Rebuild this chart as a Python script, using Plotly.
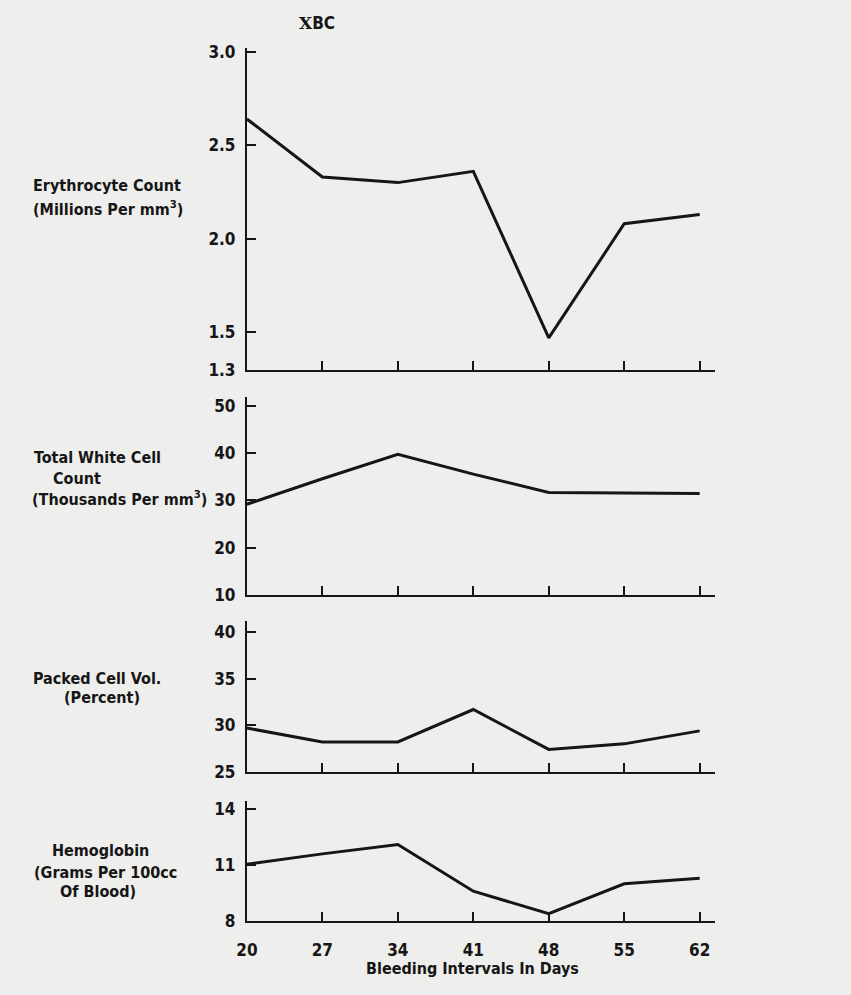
import plotly.graph_objects as go

# ---- data ----
days = [20, 27, 34, 41, 48, 55, 62]
x_tick_labels = ["20", "27", "34", "41", "48", "55", "62"]

erythrocyte = [2.64, 2.33, 2.30, 2.36, 1.47, 2.08, 2.13]
white_cells = [29.2, 34.6, 39.8, 35.6, 31.7, 31.6, 31.5]
packed_cell = [29.7, 28.2, 28.2, 31.7, 27.4, 28.0, 29.4]
hemoglobin = [11.05, 11.6, 12.1, 9.6, 8.4, 10.0, 10.3]

ery_ticks = [1.3, 1.5, 2.0, 2.5, 3.0]
ery_ticktext = ["1.3", "1.5", "2.0", "2.5", "3.0"]
wbc_ticks = [10, 20, 30, 40, 50]
pcv_ticks = [25, 30, 35, 40]
hb_ticks = [8, 11, 14]

W, H = 851, 995
INK = "#161616"
BG = "#eeeeec"
FONT = "DejaVu Sans Condensed, DejaVu Sans, Liberation Sans, sans-serif"

def px(pix):
    return pix / W

def py(pix):
    return 1 - pix / H

# panel pixel extents (top, bottom)
panels = [
    (42, 369, erythrocyte, [1.3, 3.018], ery_ticks, ery_ticktext),
    (397, 598, white_cells, [10, 51.9], wbc_ticks, [str(v) for v in wbc_ticks]),
    (625, 778, packed_cell, [25, 41.2], pcv_ticks, [str(v) for v in pcv_ticks]),
    (808, 930, hemoglobin, [8, 14.42], hb_ticks, [str(v) for v in hb_ticks]),
]

fig = go.Figure()
layout = dict(
    width=W, height=H,
    margin=dict(l=0, r=0, t=0, b=0),
    paper_bgcolor=BG, plot_bgcolor=BG,
    showlegend=False,
    font=dict(family=FONT, color=INK, size=16),
)

xdom = [px(239), px(713)]
for i, (top, bot, vals, yr, tv, tt) in enumerate(panels, start=1):
    xa = "x" if i == 1 else f"x{i}"
    ya = "y" if i == 1 else f"y{i}"
    fig.add_trace(go.Scatter(x=days, y=vals, mode="lines",
                             line=dict(color=INK, width=3),
                             xaxis=xa, yaxis=ya, hoverinfo="skip"))
    last = (i == len(panels))
    layout["xaxis" if i == 1 else f"xaxis{i}"] = dict(
        domain=xdom, anchor=ya, range=[20, 63.4],
        showline=True, linecolor=INK, linewidth=2,
        ticks="inside", ticklen=9, tickwidth=2, tickcolor=INK,
        tickvals=days, ticktext=x_tick_labels, showticklabels=last,
        ticklabelstandoff=12,
        tickfont=dict(family=FONT, size=17, color=INK, weight="bold"),
        showgrid=False, zeroline=False, fixedrange=True,
        **({} if i == 1 else {"matches": "x"}),
    )
    layout["yaxis" if i == 1 else f"yaxis{i}"] = dict(
        domain=[py(bot), py(top)], anchor=xa, range=yr,
        showline=True, linecolor=INK, linewidth=2,
        ticks="inside", ticklen=9, tickwidth=2, tickcolor=INK,
        tickvals=tv, ticktext=tt, ticklabelstandoff=6,
        tickfont=dict(family=FONT, size=17, color=INK, weight="bold"),
        showgrid=False, zeroline=False, fixedrange=True,
    )

fig.update_layout(**layout)

# left-side labels (each line placed individually)
labels = [
    ("Erythrocyte Count", 21, 182),
    ("(Millions Per mm<sup>3</sup>)", 21, 205),
    ("Total White Cell", 22, 458),
    ("Count", 42, 480),
    ("(Thousands Per mm<sup>3</sup>)", 20, 500),
    ("Packed Cell Vol.", 21, 683),
    ("(Percent)", 53, 703),
    ("Hemoglobin", 41, 858),
    ("(Grams Per 100cc", 22, 881),
    ("Of Blood)", 49, 900),
]
for txt, x, y in labels:
    fig.add_annotation(text=f"<b>{txt}</b>", xref="paper", yref="paper",
                       x=px(x), y=py(y), xanchor="left", yanchor="middle",
                       showarrow=False, borderpad=0,
                       font=dict(family=FONT, size=16, color=INK))

# title at top
fig.add_annotation(text="<span style='font-family:DejaVu Serif'><b>X</b></span><b>BC</b>",
                   xref="paper", yref="paper", x=px(291), y=py(16),
                   xanchor="left", yanchor="middle", showarrow=False, borderpad=0,
                   font=dict(family=FONT, size=17, color=INK))

# x axis title
fig.add_annotation(text="<b>Bleeding Intervals In Days</b>", xref="paper", yref="paper",
                   x=px(468), y=py(978), xanchor="center", yanchor="middle",
                   showarrow=False, borderpad=0,
                   font=dict(family=FONT, size=16, color=INK))

fig.write_html("out.html")
